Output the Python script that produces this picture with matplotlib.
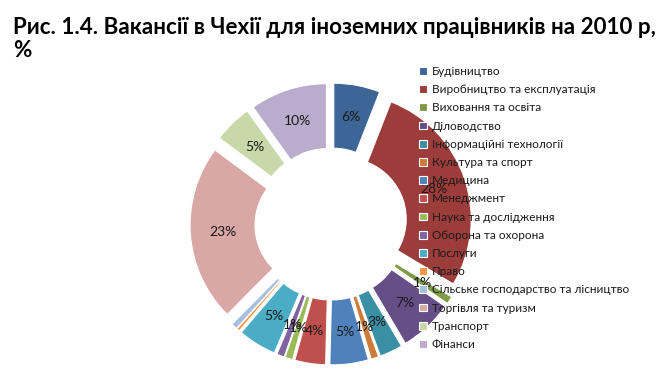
import matplotlib
matplotlib.use("Agg")
import matplotlib.pyplot as plt
import numpy as np

categories = ["Будівництво", "Виробництво та експлуатація", "Виховання та освіта",
              "Діловодство", "Інформаційні технології", "Культура та спорт",
              "Медицина", "Менеджмент", "Наука та дослідження", "Оборона та охорона",
              "Послуги", "Право", "Сільське господарство та лісництво",
              "Торгівля та туризм", "Транспорт", "Фінанси"]
values = [6, 28, 1, 7, 3, 1, 5, 4, 1, 1, 5, 0.4, 0.8, 23, 5, 10]
colors = ["#3D6696", "#9C3D3B", "#7F9A48", "#664E87", "#3A8FA5", "#CC7B38",
          "#4F81BD", "#C0504D", "#9BBB59", "#8064A2", "#4BACC6", "#F79646",
          "#A7BFDE", "#D9A7A6", "#C8D8A8", "#B9ACCC"]
title = "Рис. 1.4. Вакансії в Чехії для іноземних працівників на 2010 р,\n%"

plt.rcParams['font.family'] = ['Lato', 'DejaVu Sans']

W, H = 665, 374
fig = plt.figure(figsize=(W / 100, H / 100), dpi=100)
fig.patch.set_facecolor("white")

cx, cy = 331, 224
half = 150
ax = fig.add_axes([(cx - half) / W, (H - cy - half) / H, 2 * half / W, 2 * half / H])
R_px = 126.0
lim = half / R_px

inner = 61.0 / R_px
expl = 15.0 / R_px
wedges, _ = ax.pie(values, colors=colors, startangle=90, counterclock=False,
                   radius=1.0, explode=[expl] * len(values),
                   wedgeprops=dict(width=1 - inner, edgecolor="white", linewidth=0.8))
ax.set_xlim(-lim, lim)
ax.set_ylim(-lim, lim)
ax.set_aspect("equal")
ax.axis("off")

mid = (1 + inner) / 2
for w, v in zip(wedges, values):
    if v < 1:
        continue
    th = np.deg2rad((w.theta1 + w.theta2) / 2)
    x0, y0 = w.center
    ax.text(x0 + mid * np.cos(th), y0 + mid * np.sin(th), f"{round(v)}%",
            ha="center", va="center", fontsize=10, color="#1a1a1a", zorder=10)

fig.text(13 / W, 1 - 17 / H, title, ha="left", va="top", fontsize=16.1,
         fontweight="bold", linespacing=1.13, color="black")

leg = fig.legend(wedges, categories, loc="upper left",
                 bbox_to_anchor=(419 / W, 1 - 66 / H), frameon=False,
                 fontsize=8.5, handlelength=0.65, handleheight=0.65,
                 handletextpad=0.45, labelspacing=0.61, borderpad=0, borderaxespad=0)
for t in leg.get_texts():
    t.set_color("#1a1a1a")

fig.savefig("out.png", dpi=100, facecolor="white")
